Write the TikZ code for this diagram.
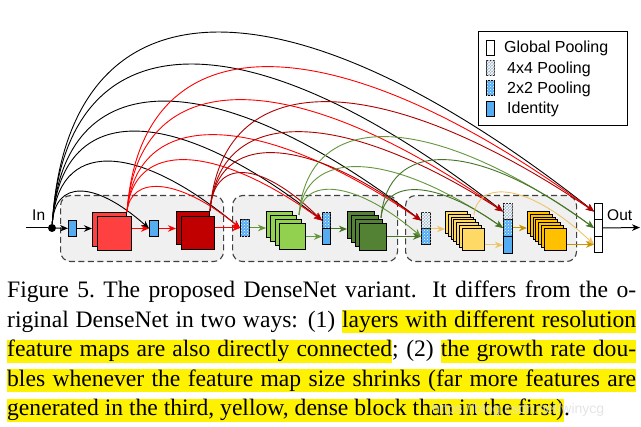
\documentclass[tikz,border=0pt]{standalone}
\usepackage{fontspec}
\setmainfont{Liberation Serif}
\newfontfamily\arial{Liberation Sans}
\usetikzlibrary{arrows.meta,patterns}
\definecolor{idblue}{RGB}{85,172,240}
\definecolor{redA}{RGB}{255,64,64}
\definecolor{redB}{RGB}{192,0,0}
\definecolor{grnA}{RGB}{146,208,80}
\definecolor{grnB}{RGB}{84,130,53}
\definecolor{ylwA}{RGB}{255,217,102}
\definecolor{ylwB}{RGB}{255,192,0}
\definecolor{lnRed}{RGB}{255,0,0}
\definecolor{lnDRed}{RGB}{175,0,0}
\definecolor{lnLGrn}{RGB}{100,150,60}
\definecolor{lnDGrn}{RGB}{70,115,40}
\definecolor{lnLY}{RGB}{238,196,105}
\definecolor{lnDY}{RGB}{200,150,0}
\definecolor{blockbg}{RGB}{240,240,240}
\definecolor{hly}{RGB}{255,242,0}
\definecolor{grayfour}{RGB}{160,182,205}
\newsavebox\hlbox
\newcommand\hlt[1]{\sbox\hlbox{#1}\rlap{\textcolor{hly}{\rule[-6pt]{\wd\hlbox}{23pt}}}\usebox\hlbox}
\newcommand\hsp{{\color{hly}\leaders\hrule height 17pt depth 6pt\hskip\fontdimen2\font plus \fontdimen3\font minus \fontdimen4\font}}
\newcommand\capfont{\fontsize{23.6}{29.5}\selectfont}
\newcommand\conn[4]{%
  \path (#2); \pgfgetlastxy{\cnAx}{\cnAy}%
  \path (#3); \pgfgetlastxy{\cnBx}{\cnBy}%
  \pgfmathsetmacro\cnD{\cnBx-\cnAx}%
  \pgfmathsetmacro\cnY{(-(#4)-0.125*(\cnAy+(\cnBy)))/0.75}%
  \pgfmathsetmacro\cnPx{\cnAx+0.03*\cnD}%
  \pgfmathsetmacro\cnQx{\cnAx+0.4367*\cnD}%
  \draw[lnk,#1] (#2) .. controls (\cnPx pt,\cnY pt) and (\cnQx pt,\cnY pt) .. (#3);%
}
\begin{document}
\begin{tikzpicture}[x=1pt,y=-1pt,
  lnk/.style={line width=0.9pt,-{Stealth[length=8pt,width=6.5pt,inset=2.5pt]}},
  sarr/.style={line width=1pt,-{Stealth[length=8pt,width=6.5pt,inset=2.5pt]}},
  blk/.style={draw=black!75,dash pattern=on 6pt off 3.5pt,line width=1.1pt,fill=blockbg,rounded corners=10pt,anchor=north west,inner sep=0,minimum height=66pt},
  sq/.style={draw=black,line width=1pt,inner sep=0,anchor=north west},
  rc/.style={draw=black,line width=1pt,inner sep=0,anchor=north west},
  ptwo/.style={fill=idblue,postaction={pattern=crosshatch dots,pattern color=white}},
  pfour/.style={fill=grayfour,postaction={pattern=crosshatch,pattern color=white}},
  lt/.style={font=\arial\fontsize{16}{18}\selectfont,inner sep=0,anchor=base west},
  io/.style={font=\arial\fontsize{15.5}{18}\selectfont,inner sep=0,anchor=base west}]
\useasboundingbox (0,0) rectangle (641,427);
\fill[white] (0,0) rectangle (641,427);

% dense blocks
\node[blk,minimum width=163pt] (blk1) at (60,195) {};
\node[blk,minimum width=165pt] (blk2) at (232,195) {};
\node[blk,minimum width=171pt] (blk3) at (405,195) {};

% transition / pooling bars
\node[rc,fill=idblue,minimum width=8pt,minimum height=16pt] (id1) at (68,220) {};
\node[rc,fill=idblue,minimum width=9pt,minimum height=16pt] (id2) at (149,220) {};
\node[rc,ptwo,minimum width=9pt,minimum height=17pt] (p2) at (240,219) {};
\node[rc,ptwo,minimum width=8pt,minimum height=16pt] (t2a) at (322,212) {};
\node[rc,fill=idblue,minimum width=8pt,minimum height=16pt] (t2b) at (322,228) {};
\node[rc,pfour,minimum width=9pt,minimum height=16pt] (b3a) at (421,212) {};
\node[rc,ptwo,minimum width=9pt,minimum height=16pt] (b3b) at (421,228) {};
\node[rc,pfour,minimum width=9pt,minimum height=16pt] (t3a) at (503,203) {};
\node[rc,ptwo,minimum width=9pt,minimum height=17pt] (t3b) at (503,219) {};
\node[rc,fill=idblue,minimum width=9pt,minimum height=17pt] (t3c) at (503,236) {};
\node[rc,fill=white,minimum width=8pt,minimum height=16pt] (o1) at (594,203) {};
\node[rc,fill=white,minimum width=8pt,minimum height=17pt] (o2) at (594,219) {};
\node[rc,fill=white,minimum width=8pt,minimum height=16pt] (o3) at (594,236) {};

% feature map stacks
\node[sq,fill=redA,minimum size=34pt] (r1b) at (92,212) {};
\node[sq,fill=redA,minimum size=34pt] (r1f) at (97,216) {};
\node[sq,fill=redB,minimum size=33pt] (r2b) at (176,211) {};
\node[sq,fill=redB,minimum size=33pt] (r2f) at (181,216) {};
\foreach \i in {0,...,3} \node[sq,fill=grnA,minimum size=26pt] (g1s\i) at ({266+4.33*\i},{211+4*\i}) {};
\foreach \i in {0,...,3} \node[sq,fill=grnB,minimum size=27pt] (g2s\i) at ({347+4*\i},{211+4*\i}) {};
\foreach \i in {0,...,6} \node[sq,fill=ylwA,minimum size=22pt] (y1s\i) at ({445+2.83*\i},{211+2.83*\i}) {};
\foreach \i in {0,...,6} \node[sq,fill=ylwB,minimum size=22pt] (y2s\i) at ({527+2.83*\i},{211+2.83*\i}) {};

% input
\coordinate (inL) at (26,228);
\node[circle,fill=black,inner sep=0,minimum size=8pt] (dot) at (52,228) {};
\draw[line width=1pt] (inL) -- (dot);
\node[io] (inlab) at (32,221) {In};
\coordinate (outEnd) at (640,227.5);
\node[io] (outlab) at (607,221) {Out};

% arc sources
\coordinate (gsrc) at (299,215);
\coordinate (dgsrc) at (381,218);
\coordinate (ysrc) at (474,215);

% black arcs from input
\conn{black}{dot}{id2.west}{192}
\conn{black}{dot}{p2.west}{162}
\conn{black}{dot}{t2a.west}{132}
\conn{black}{dot}{b3a.west}{102}
\conn{black}{dot}{t3a.west}{65}
\conn{black}{dot}{o1.west}{33}
% red arcs
\conn{lnRed}{r1b.north east}{p2.west}{187}
\conn{lnRed}{r1b.north east}{t2a.west}{160}
\conn{lnRed}{r1b.north east}{b3a.west}{135}
\conn{lnRed}{r1b.north east}{t3a.west}{100}
\conn{lnRed}{r1b.north east}{o1.west}{67}
% dark red arcs
\conn{lnDRed}{r2b.north east}{t2a.west}{173}
\conn{lnDRed}{r2b.north east}{b3a.west}{153}
\conn{lnDRed}{r2b.north east}{t3a.west}{132}
\conn{lnDRed}{r2b.north east}{o1.west}{102}
% light green arcs
\conn{lnLGrn}{gsrc}{b3b.west}{190}
\conn{lnLGrn}{gsrc}{t3b.west}{167}
\conn{lnLGrn}{gsrc}{o2.west}{137}
% dark green arcs
\conn{lnDGrn}{dgsrc}{t3b.west}{190}
\conn{lnDGrn}{dgsrc}{o2.west}{160}
% yellow arc
\conn{lnLY}{ysrc}{o3.west}{193}

% straight connections
\draw[sarr] (dot) -- (id1);
\draw[sarr] (id1.east) -- (id1.east -| r1b.west);
\draw[sarr,lnRed] (id2.west -| r1f.east) -- (id2.west);
\draw[sarr,lnRed] (id2.east) -- (id2.east -| r2b.west);
\draw[sarr,lnRed] (p2.west -| r2f.east) -- (p2.west);
\draw[sarr,lnLGrn] (p2.east) -- (p2.east -| g1s0.west);
\draw[sarr,lnLGrn] (t2b.west -| g1s3.east) -- (t2b.west);
\draw[sarr,lnDGrn] (t2a.south east) -- (t2a.south east -| g2s0.west);
\draw[sarr,lnDGrn] (b3b.west -| g2s3.east) -- (b3b.west);
\draw[sarr,lnLY] (b3a.south east) -- (b3a.south east -| y1s0.west);
\draw[sarr,lnLY] (t3c.west -| y1s6.east) -- (t3c.west);
\draw[sarr,lnDY] (t3b.east) -- (t3b.east -| y2s0.west);
\draw[sarr,lnDY] (o3.west -| y2s6.east) -- (o3.west);
\draw[sarr] (o2.east) -- (outEnd);

% legend
\node[draw,line width=1pt,anchor=north west,inner sep=0,minimum width=149pt,minimum height=94pt,fill=white] (leg) at (478,31) {};
\node[rc,fill=white,minimum width=8pt,minimum height=15pt] (lg1) at (486,40) {};
\node[rc,pfour,minimum width=8pt,minimum height=15pt] (lg2) at (486,60) {};
\node[rc,ptwo,minimum width=8pt,minimum height=15pt] (lg3) at (486,80) {};
\node[rc,fill=idblue,minimum width=8pt,minimum height=15pt] (lg4) at (486,101) {};
\node[lt] (lt1) at (504,53) {Global Pooling};
\node[lt] (lt2) at (507,73.5) {4x4 Pooling};
\node[lt] (lt3) at (507,94) {2x2 Pooling};
\node[lt] (lt4) at (507,114) {Identity};

% caption
\node[anchor=base west,inner sep=0] (cap1) at (7,298) {\capfont\makebox[629pt][s]{Figure 5.\ The proposed DenseNet variant. It differs from the o-}};
\node[anchor=base west,inner sep=0] (cap2) at (7,327.5) {\capfont\makebox[629pt][s]{riginal DenseNet in two ways: (1) \hlt{layers}\hsp\hlt{with}\hsp\hlt{different}\hsp\hlt{resolution}}};
\node[anchor=base west,inner sep=0] (cap3) at (7,357) {\capfont\makebox[629pt][s]{\hlt{feature}\hsp\hlt{maps}\hsp\hlt{are}\hsp\hlt{also}\hsp\hlt{directly}\hsp\hlt{connected}; (2) \hlt{the}\hsp\hlt{growth}\hsp\hlt{rate}\hsp\hlt{dou-}}};
\node[anchor=base west,inner sep=0] (cap4) at (7,386.5) {\capfont\makebox[629pt][s]{\hlt{bles}\hsp\hlt{whenever}\hsp\hlt{the}\hsp\hlt{feature}\hsp\hlt{map}\hsp\hlt{size}\hsp\hlt{shrinks}\hsp\hlt{(far}\hsp\hlt{more}\hsp\hlt{features}\hsp\hlt{are}}};
\node[anchor=base west,inner sep=0] (cap5) at (7,416) {\capfont\hlt{generated in the third, yellow, dense block than in the first)}.};
\node[anchor=base west,inner sep=0,font=\arial\fontsize{14}{16}\selectfont,text=black!12,opacity=0.85] (wm) at (432,414) {https://blog.csdn.net/winycg};
\end{tikzpicture}
\end{document}
